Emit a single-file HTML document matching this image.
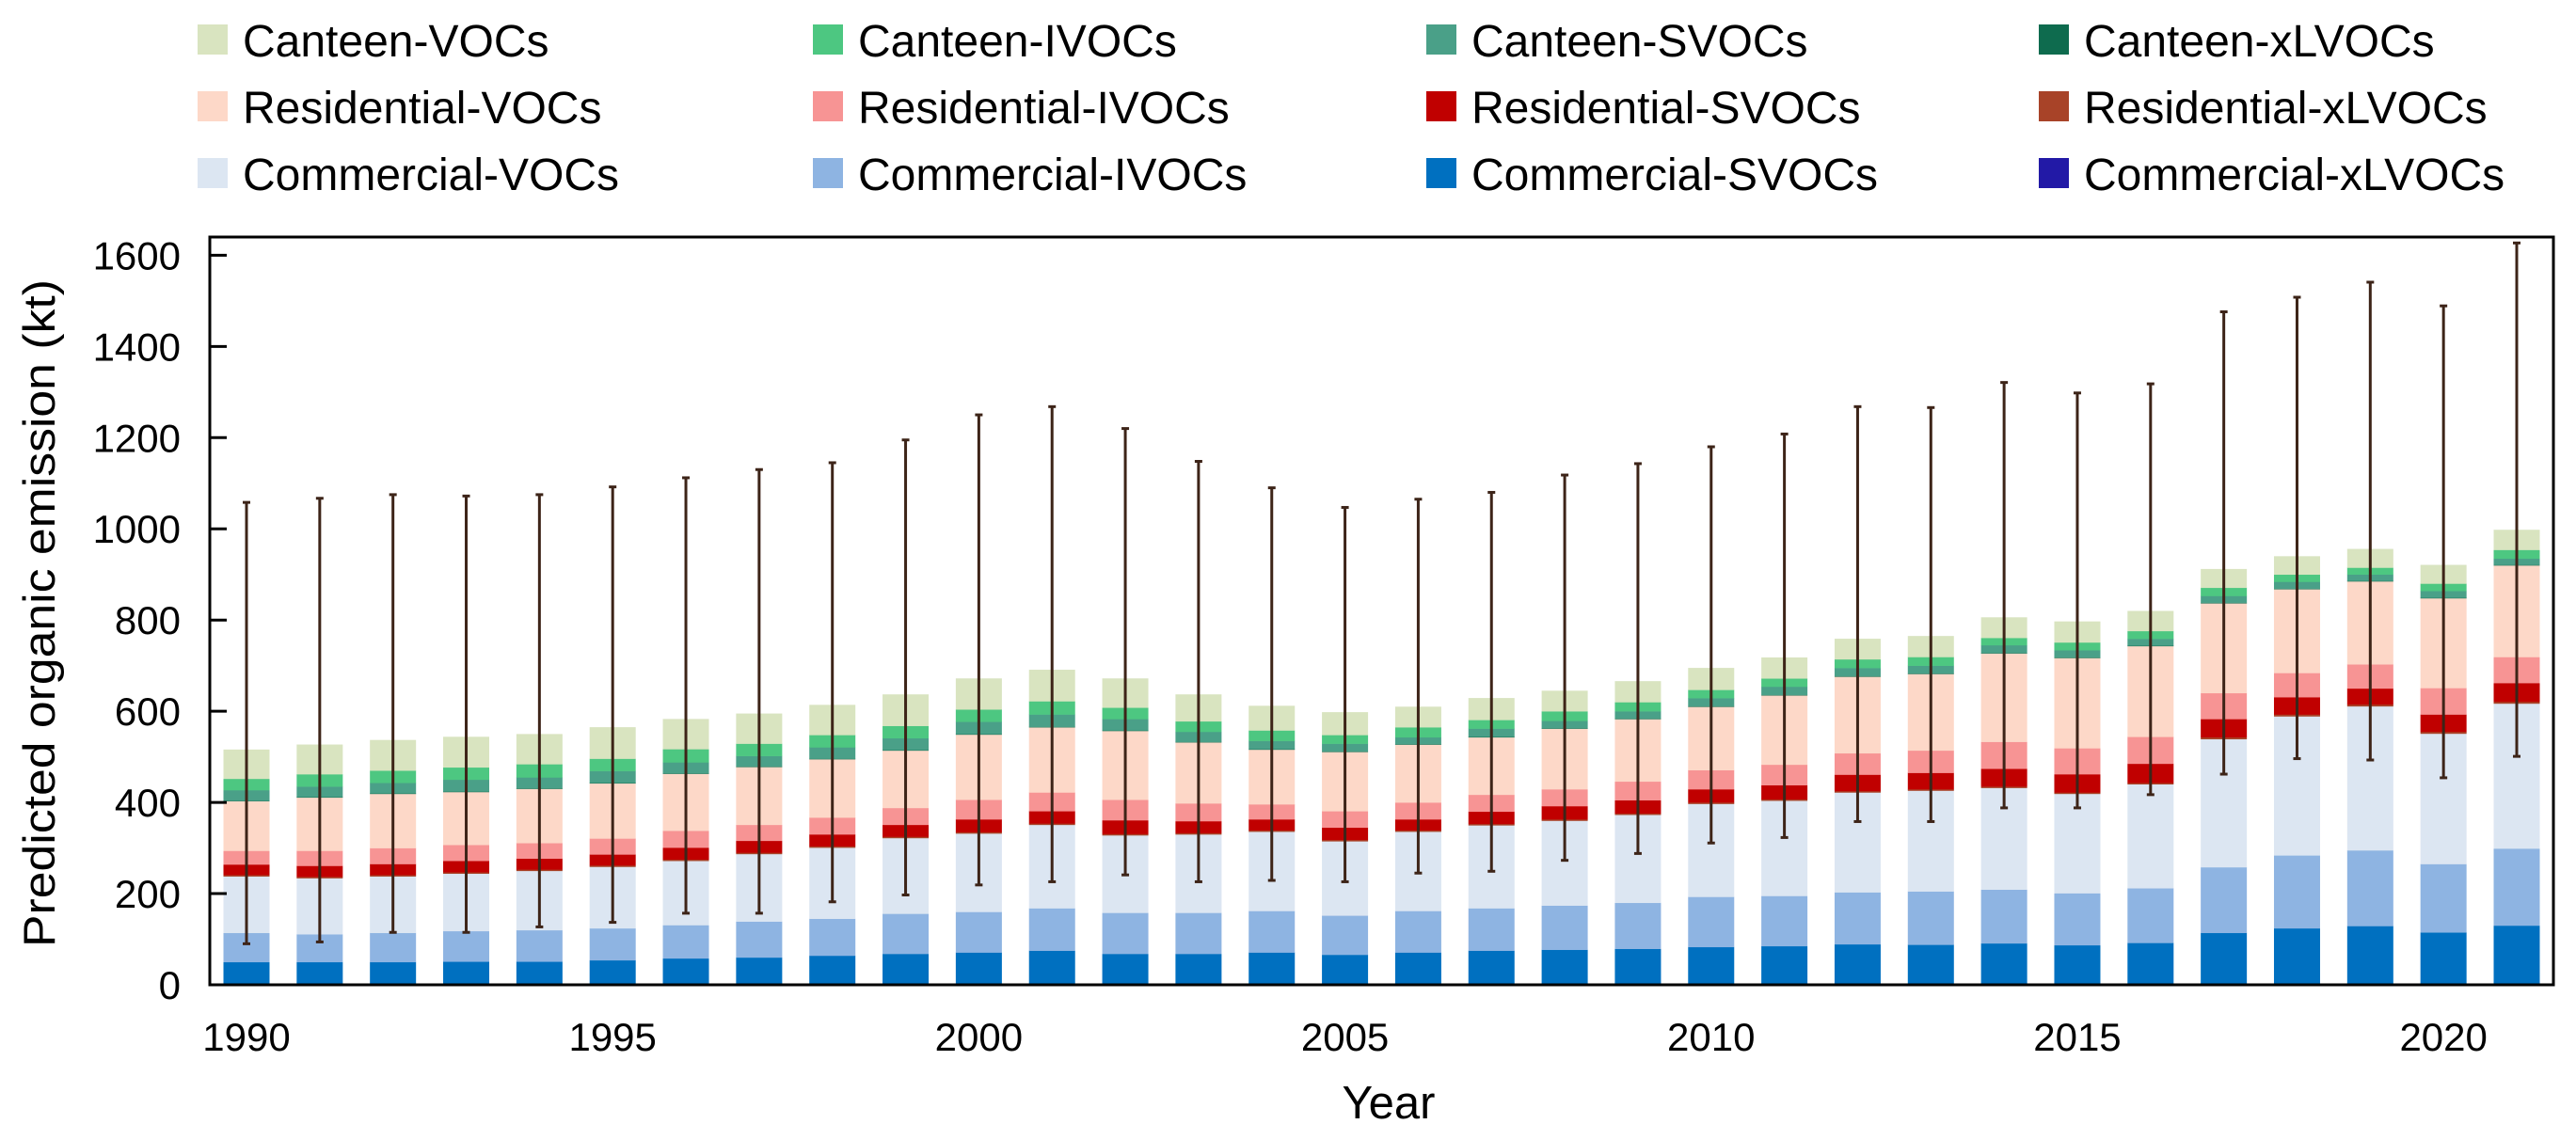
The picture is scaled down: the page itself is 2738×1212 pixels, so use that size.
<!DOCTYPE html>
<html><head><meta charset="utf-8">
<style>
html,body{margin:0;padding:0;background:#fff;}
svg{display:block;font-family:"Liberation Sans",Arial,sans-serif;}
</style></head>
<body>
<svg id="chart" width="2738" height="1212" viewBox="0 0 2738 1212" xmlns="http://www.w3.org/2000/svg">
<g id="legend"></g>
<g id="bars"></g>
<g id="errs"></g>
<g id="axes"></g>
</svg>
<script>
const years = [1990,1991,1992,1993,1994,1995,1996,1997,1998,1999,2000,2001,2002,2003,2004,2005,2006,2007,2008,2009,2010,2011,2012,2013,2014,2015,2016,2017,2018,2019,2020,2021];
const comXL = [1,1,1,1,1,1,1,1,1,1,1,1,1,1,1,1,1,2,2,2,2,2,2,2,2,2,2,3,3,3,3,3];
const comS  = [49,49,49,50,50,53,57,59,63,67,70,74,67,67,70,65,70,73,75,77,81,83,87,86,89,85,90,111,121,126,112,127];
const comI  = [64,61,64,67,69,70,73,79,81,88,89,93,90,90,91,86,91,93,97,101,110,110,114,117,118,114,120,144,160,166,150,169];
const comV  = [124,123,124,126,130,135,141,148,156,166,172,183,170,172,174,163,174,182,186,193,204,209,219,221,223,218,228,281,305,316,286,318];
const resXL = [3,3,3,3,3,3,3,3,3,3,3,3,3,3,3,3,3,3,3,3,3,3,3,3,3,3,3,4,4,4,4,4];
const resS  = [23,24,24,25,24,24,26,26,26,26,28,27,30,26,24,27,24,27,29,29,29,31,36,36,39,40,42,40,38,35,38,41];
const resI  = [30,33,35,35,34,35,37,35,37,37,43,41,45,39,33,36,37,37,37,41,42,45,47,49,59,57,59,57,53,53,58,57];
const resV  = [109,117,119,116,119,121,125,127,128,126,143,143,151,134,120,130,127,126,133,137,139,152,168,168,194,198,199,197,184,182,197,201];
const canXL = [1,1,1,1,1,1,1,1,1,1,1,1,1,1,1,1,1,1,1,1,1,1,1,1,1,1,1,1,1,1,1,1];
const canS  = [23,23,23,26,24,26,24,23,25,26,27,27,25,22,18,17,15,18,16,16,18,18,18,17,17,16,15,15,15,14,15,14];
const canI  = [25,27,27,27,29,27,29,27,27,27,27,29,25,23,23,19,22,19,21,20,18,18,19,19,16,17,17,18,16,15,16,19];
const canV  = [64,65,67,67,66,69,66,66,66,69,68,69,64,59,54,50,45,48,45,46,48,46,45,46,45,46,44,41,40,41,41,44];
const errLo = [90,94,115,115,127,137,157,157,182,197,219,226,241,226,229,226,245,249,273,288,311,323,358,358,388,388,417,462,496,493,454,501];
const errHi = [1058,1067,1075,1072,1075,1092,1112,1130,1145,1195,1250,1268,1220,1148,1090,1047,1065,1080,1118,1143,1180,1208,1268,1266,1321,1298,1318,1476,1508,1541,1489,1627];
const yTicks = [0,200,400,600,800,1000,1200,1400,1600];
const xTickYears = [1990,1995,2000,2005,2010,2015,2020];
const seriesNames = ["Commercial-xLVOCs","Commercial-SVOCs","Commercial-IVOCs","Commercial-VOCs","Residential-xLVOCs","Residential-SVOCs","Residential-IVOCs","Residential-VOCs","Canteen-xLVOCs","Canteen-SVOCs","Canteen-IVOCs","Canteen-VOCs"];
const seriesColors = ["#2219a6","#0070c0","#8eb4e2","#dce6f2","#a84328","#c00000","#f79494","#fdd8c8","#0e6b4e","#4aa088","#4dc781","#d9e4c0"];
const series = [comXL,comS,comI,comV,resXL,resS,resI,resV,canXL,canS,canI,canV];

const NS="http://www.w3.org/2000/svg";
const L=223,R=2714,T=252,B=1047,YMAX=1640;
const y=v=>B-(v/YMAX)*(B-T);
const x0=262,step=(2675-262)/31,bw=49;
const x=yr=>x0+(yr-years[0])*step;
function mk(tag,parent,attrs){const e=document.createElementNS(NS,tag);for(const k in attrs)e.setAttribute(k,attrs[k]);parent.appendChild(e);return e;}

const gb=document.getElementById('bars');
years.forEach((yr,i)=>{
  let acc=0;
  series.forEach((s,j)=>{
    const v=s[i];
    const r=mk('rect',gb,{x:x(yr)-bw/2,y:y(acc+v),width:bw,height:y(acc)-y(acc+v)+0.3,fill:seriesColors[j]});
    
    
    acc+=v;
  });
});
const ge=document.getElementById('errs');
years.forEach((yr,i)=>{
  const cx=x(yr);
  const g=mk('g',ge,{stroke:'#3d2418','stroke-width':3});
  
  
  mk('line',g,{x1:cx,x2:cx,y1:y(errLo[i]),y2:y(errHi[i])});
  mk('line',g,{x1:cx-4,x2:cx+4,y1:y(errLo[i]),y2:y(errLo[i])});
  mk('line',g,{x1:cx-4,x2:cx+4,y1:y(errHi[i]),y2:y(errHi[i])});
});
const ga=document.getElementById('axes');
const fr=mk('rect',ga,{x:L,y:T,width:R-L,height:B-T,fill:'none',stroke:'#000','stroke-width':3});


yTicks.forEach(v=>{
  mk('line',ga,{x1:L,x2:L+18,y1:y(v),y2:y(v),stroke:'#000','stroke-width':3});
  const t=mk('text',ga,{x:192,y:y(v)+15,'text-anchor':'end','font-size':42});
  t.textContent=v;
  
  
});
xTickYears.forEach(yr=>{
  const t=mk('text',ga,{x:x(yr),y:1117,'text-anchor':'middle','font-size':42});
  t.textContent=yr;
  
  
});
const xt=mk('text',ga,{x:1476,y:1189,'text-anchor':'middle','font-size':49});
xt.textContent='Year';


const yt=mk('text',ga,{x:0,y:0,'text-anchor':'middle','font-size':47,transform:'translate(58,652) rotate(-90)',textLength:710,lengthAdjust:'spacingAndGlyphs'});
yt.textContent='Predicted organic emission (kt)';



const gl=document.getElementById('legend');
const legOrder=[[11,10,9,8],[7,6,5,4],[3,2,1,0]];
const colX=[210,864,1516,2167], rowY=[26,97,168];
legOrder.forEach((row,ri)=>row.forEach((si,ci)=>{
  const g=mk('g',gl,{});
  
  
  mk('rect',g,{x:colX[ci],y:rowY[ri],width:32,height:32,fill:seriesColors[si]});
  const t=mk('text',g,{x:colX[ci]+48,y:rowY[ri]+34,'font-size':48});
  t.textContent=seriesNames[si];
}));
</script>
</body></html>
